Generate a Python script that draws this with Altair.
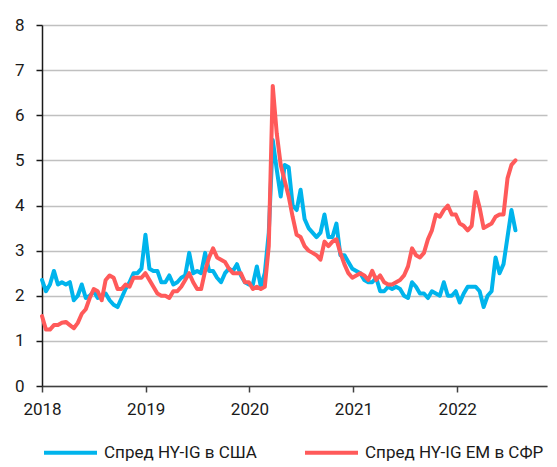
import altair as alt
import pandas as pd

# ---- data (two-week steps from 2018-01-01) ----
start_date = "2018-01-01"
step = "14D"

us_spread = [
    2.35, 2.10, 2.25, 2.55, 2.25, 2.30, 2.25, 2.30, 1.90, 2.00,
    2.25, 1.95, 2.00, 2.10, 1.95, 2.00, 2.05, 1.90, 1.80, 1.75,
    1.95, 2.15, 2.30, 2.50, 2.50, 2.60, 3.35, 2.60, 2.55, 2.55,
    2.30, 2.30, 2.45, 2.25, 2.30, 2.40, 2.45, 2.95, 2.50, 2.55,
    2.50, 2.95, 2.55, 2.55, 2.40, 2.30, 2.50, 2.60, 2.55, 2.70,
    2.45, 2.30, 2.25, 2.25, 2.65, 2.20, 2.50, 3.40, 5.45, 4.80,
    4.20, 4.90, 4.85, 4.00, 3.90, 4.35, 3.70, 3.50, 3.40, 3.30,
    3.40, 3.80, 3.30, 3.30, 3.60, 2.90, 2.90, 2.75, 2.60, 2.55,
    2.50, 2.35, 2.30, 2.30, 2.40, 2.10, 2.10, 2.20, 2.15, 2.20,
    2.15, 2.00, 1.95, 2.30, 2.20, 2.05, 2.05, 1.95, 2.10, 2.05,
    2.00, 2.30, 2.00, 2.00, 2.10, 1.85, 2.05, 2.20, 2.20, 2.20,
    2.10, 1.75, 2.00, 2.10, 2.85, 2.50, 2.70, 3.30, 3.90, 3.45,
]

em_spread = [
    1.55, 1.25, 1.25, 1.35, 1.35, 1.40, 1.42, 1.35, 1.28, 1.40,
    1.60, 1.70, 1.95, 2.15, 2.10, 1.90, 2.35, 2.45, 2.40, 2.15,
    2.15, 2.25, 2.20, 2.40, 2.40, 2.40, 2.50, 2.35, 2.20, 2.05,
    2.00, 2.00, 1.95, 2.10, 2.10, 2.20, 2.35, 2.50, 2.30, 2.15,
    2.15, 2.55, 2.85, 3.05, 2.85, 2.80, 2.75, 2.60, 2.50, 2.50,
    2.50, 2.30, 2.30, 2.15, 2.20, 2.15, 2.20, 3.10, 6.65, 5.60,
    4.90, 4.55, 4.20, 3.75, 3.35, 3.30, 3.10, 3.00, 2.95, 2.90,
    2.80, 3.20, 3.10, 3.20, 3.25, 2.95, 2.70, 2.50, 2.40, 2.45,
    2.50, 2.45, 2.35, 2.55, 2.35, 2.45, 2.30, 2.25, 2.25, 2.30,
    2.35, 2.45, 2.65, 3.05, 2.90, 2.85, 2.95, 3.25, 3.45, 3.80,
    3.75, 3.90, 4.00, 3.80, 3.80, 3.60, 3.55, 3.45, 3.55, 4.30,
    3.95, 3.50, 3.55, 3.60, 3.75, 3.80, 3.80, 4.60, 4.90, 5.00,
]

series_names = ["Спред HY-IG в США", "Спред HY-IG EM в СФР"]
series_colors = ["#00b4ec", "#ff5a5a"]
year_ticks = [2018, 2019, 2020, 2021, 2022]
y_ticks = [0, 1, 2, 3, 4, 5, 6, 7, 8]

dates = pd.date_range(start_date, periods=len(us_spread), freq=step)
df = pd.concat([
    pd.DataFrame({"date": dates.strftime("%Y-%m-%d"), "value": us_spread, "series": series_names[0], "order": 0}),
    pd.DataFrame({"date": dates.strftime("%Y-%m-%d"), "value": em_spread, "series": series_names[1], "order": 1}),
])

FONT = "Roboto"

chart = alt.Chart(df).mark_line(strokeWidth=4, strokeJoin="round", strokeCap="round").encode(
    x=alt.X(
        "date:T",
        scale=alt.Scale(domain=[alt.DateTime(year=2018, month=1, date=1),
                                alt.DateTime(year=2022, month=11, date=13)]),
        axis=alt.Axis(
            values=[alt.DateTime(year=y, month=1, date=1) for y in year_ticks],
            format="%Y", title=None, grid=False, labelFlush=False,
            domainColor="#404040", domainWidth=1.5,
            tickColor="#404040", tickWidth=1.5, tickSize=6,
            labelFont=FONT, labelFontSize=17, labelColor="#1a1a1a", labelPadding=9,
        ),
    ),
    y=alt.Y(
        "value:Q",
        scale=alt.Scale(domain=[0, 8], nice=False),
        axis=alt.Axis(
            values=y_ticks, title=None, grid=True,
            gridColor="#c0c0c0", gridWidth=1.5,
            domainColor="#1a1a1a", domainWidth=1.5,
            tickColor="#1a1a1a", tickWidth=1.5, tickSize=6,
            labelFont=FONT, labelFontSize=17, labelColor="#1a1a1a", labelPadding=12,
        ),
    ),
    color=alt.Color(
        "series:N",
        scale=alt.Scale(domain=series_names, range=series_colors),
        legend=alt.Legend(
            title=None, orient="none", legendX=0, legendY=399,
            direction="horizontal", symbolType="stroke", symbolSize=2809,
            symbolStrokeWidth=4, labelFont=FONT, labelFontSize=17,
            labelColor="#1a1a1a", labelOffset=5, columnPadding=40, labelLimit=400,
            padding=0,
        ),
    ),
    order="order:Q",
).properties(
    width=505,
    height=361,
    autosize=alt.AutoSizeParams(type="none"),
    padding={"left": 34, "top": 17, "right": 2, "bottom": 79},
).configure_view(stroke=None)

chart.save("out.html", embed_options={"renderer": "svg", "actions": False})
